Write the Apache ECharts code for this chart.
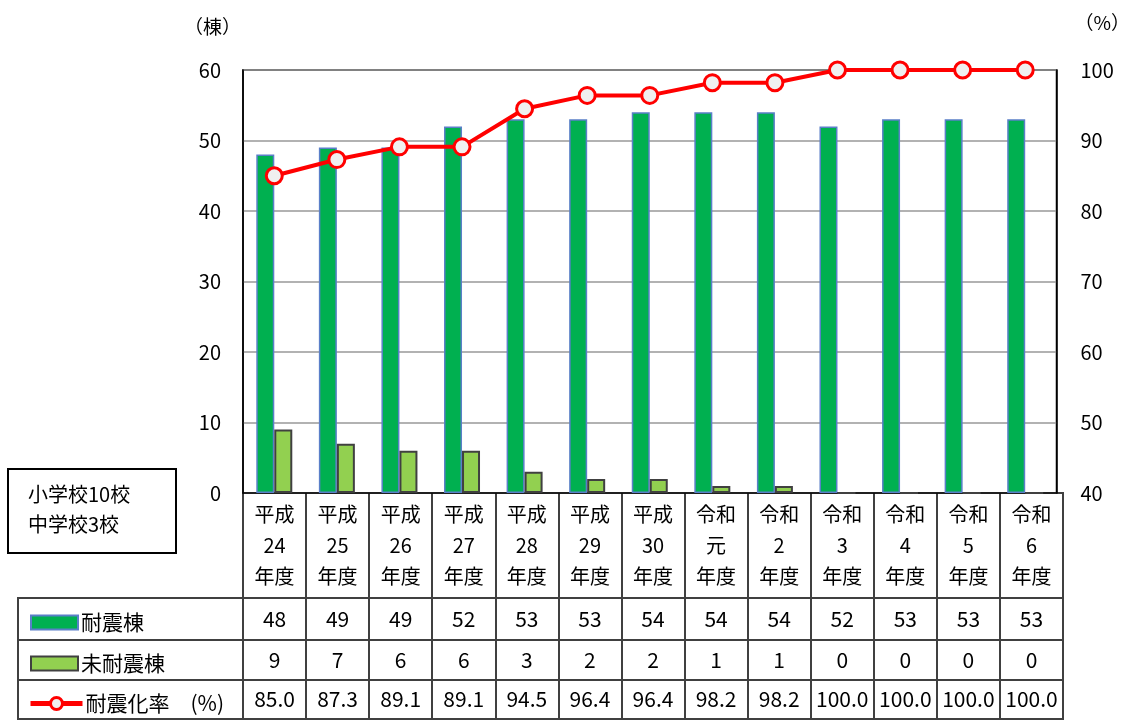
<!DOCTYPE html>
<html><head><meta charset="utf-8">
<script src="https://cdn.jsdelivr.net/npm/echarts@6/dist/echarts.min.js"></script>
<style>html,body{margin:0;padding:0;background:#fff}#c{width:1133px;height:720px}</style>
</head><body><div id="c"></div>
<script>
var categories = ['平成\n24\n年度','平成\n25\n年度','平成\n26\n年度','平成\n27\n年度','平成\n28\n年度','平成\n29\n年度','平成\n30\n年度','令和\n元\n年度','令和\n2\n年度','令和\n3\n年度','令和\n4\n年度','令和\n5\n年度','令和\n6\n年度'];
var seismic = [48,49,49,52,53,53,54,54,54,52,53,53,53];
var nonSeismic = [9,7,6,6,3,2,2,1,1,0,0,0,0];
var rate = [85.0,87.3,89.1,89.1,94.5,96.4,96.4,98.2,98.2,100.0,100.0,100.0,100.0];
var leftTicks = [0,10,20,30,40,50,60];
var rightTicks = [40,50,60,70,80,90,100];
var seriesNames = ['耐震棟','未耐震棟','耐震化率　(%)'];

var FONT = '"Noto Sans CJK JP", sans-serif';
var LINE = '#404040';
var L = 243, W = 820;
var rows = [
  {top: 493, h: 105},
  {top: 598, h: 42},
  {top: 640, h: 40},
  {top: 680, h: 39}
];
var rowData = [categories, seismic.map(String), nonSeismic.map(String), rate.map(function(v){return v.toFixed(1);})];

var grids = [{left: L, top: 70, width: W, height: 423, show: true, borderColor: '#000', borderWidth: 1.5, backgroundColor: 'transparent'}];
var xAxes = [{
  type: 'category', gridIndex: 0, data: categories,
  axisLine: {show: true, lineStyle: {color: '#000', width: 1.5}},
  axisTick: {show: false}, axisLabel: {show: false}
}];
var yAxes = [
  {type: 'value', gridIndex: 0, min: 0, max: 60, interval: 10, position: 'left',
   name: '（棟）', nameLocation: 'end', nameGap: 34,
   nameTextStyle: {fontFamily: FONT, fontSize: 19, color: '#000', align: 'right', padding: [0, 2, 0, 0]},
   axisLine: {show: true, lineStyle: {color: '#000', width: 1.5}}, axisTick: {show: false},
   axisLabel: {fontFamily: FONT, fontSize: 20, color: '#000', margin: 22,
     formatter: function(v){return leftTicks.indexOf(v) >= 0 ? String(v) : '';}},
   splitLine: {show: true, lineStyle: {color: '#999', width: 1.5}}},
  {type: 'value', gridIndex: 0, min: 40, max: 100, interval: 10, position: 'right',
   name: '（%）', nameLocation: 'end', nameGap: 38,
   nameTextStyle: {fontFamily: FONT, fontSize: 19, color: '#000', align: 'left', padding: [0, 0, 0, 18]},
   axisLine: {show: true, lineStyle: {color: '#000', width: 1.5}}, axisTick: {show: false},
   axisLabel: {fontFamily: FONT, fontSize: 20, color: '#000', margin: 24,
     formatter: function(v){return rightTicks.indexOf(v) >= 0 ? String(v) : '';}},
   splitLine: {show: false}}
];

rows.forEach(function(r, i){
  grids.push({left: L, top: r.top, width: W, height: r.h, show: true, borderColor: LINE, borderWidth: 2});
  xAxes.push({
    type: 'category', gridIndex: i + 1, data: rowData[i], position: 'top',
    axisLine: {show: false}, axisTick: {show: false},
    axisLabel: {inside: true, margin: r.h / 2, verticalAlign: 'middle', interval: 0,
      fontFamily: FONT, fontSize: i === 0 ? 20 : 21, color: '#000', lineHeight: 31},
    splitLine: {show: true, interval: 0, lineStyle: {color: LINE, width: 2}}
  });
  yAxes.push({type: 'value', gridIndex: i + 1, min: 0, max: 1, show: false});
});

var legendRowTop = [607, 648, 688];
var legends = seriesNames.map(function(n, i){
  var isLine = i === 2;
  var lg = {
    data: [n], left: isLine ? 23 : 25, top: legendRowTop[i], orient: 'horizontal',
    icon: isLine ? undefined : 'rect',
    itemWidth: isLine ? 52 : 47, itemHeight: isLine ? 15 : 14, itemGap: 0, selectedMode: false,
    textStyle: {fontFamily: FONT, fontSize: 21, color: '#000', padding: [0, 0, 0, -2]}
  };
  if (isLine) {
    lg.lineStyle = {width: 5, color: '#FF0000'};
    lg.itemStyle = {color: '#F0F0F0', borderColor: '#FF0000', borderWidth: 3};
  }
  return lg;
});

var option = {
  animation: false,
  backgroundColor: '#fff',
  grid: grids, xAxis: xAxes, yAxis: yAxes, legend: legends,
  series: [
    {name: seriesNames[0], type: 'bar', xAxisIndex: 0, yAxisIndex: 0, data: seismic,
     barWidth: 18, barGap: '0%',
     itemStyle: {color: '#00B050', borderColor: '#5A7FC8', borderWidth: 1.5}},
    {name: seriesNames[1], type: 'bar', xAxisIndex: 0, yAxisIndex: 0, data: nonSeismic,
     barWidth: 18,
     itemStyle: {color: '#92D050', borderColor: '#404040', borderWidth: 2}},
    {name: seriesNames[2], type: 'line', xAxisIndex: 0, yAxisIndex: 1, data: rate, z: 5,
     symbol: 'circle', symbolSize: 16, showAllSymbol: true,
     lineStyle: {color: '#FF0000', width: 4},
     itemStyle: {color: '#F0F0F0', borderColor: '#FF0000', borderWidth: 3}}
  ],
  graphic: [
    {type: 'rect', shape: {x: 8, y: 469, width: 168, height: 84}, style: {fill: '#fff', stroke: '#000', lineWidth: 2}},
    {type: 'text', x: 28, y: 479, style: {text: '小学校10校\n中学校3校', fontFamily: FONT, fontSize: 20, lineHeight: 30, fill: '#000'}},
    {type: 'rect', shape: {x: 18, y: 598, width: 225, height: 42}, style: {fill: 'none', stroke: LINE, lineWidth: 2}},
    {type: 'rect', shape: {x: 18, y: 640, width: 225, height: 40}, style: {fill: 'none', stroke: LINE, lineWidth: 2}},
    {type: 'rect', shape: {x: 18, y: 680, width: 225, height: 39}, style: {fill: 'none', stroke: LINE, lineWidth: 2}}
  ]
};
var chart = echarts.init(document.getElementById('c'));
chart.setOption(option);
</script></body></html>
